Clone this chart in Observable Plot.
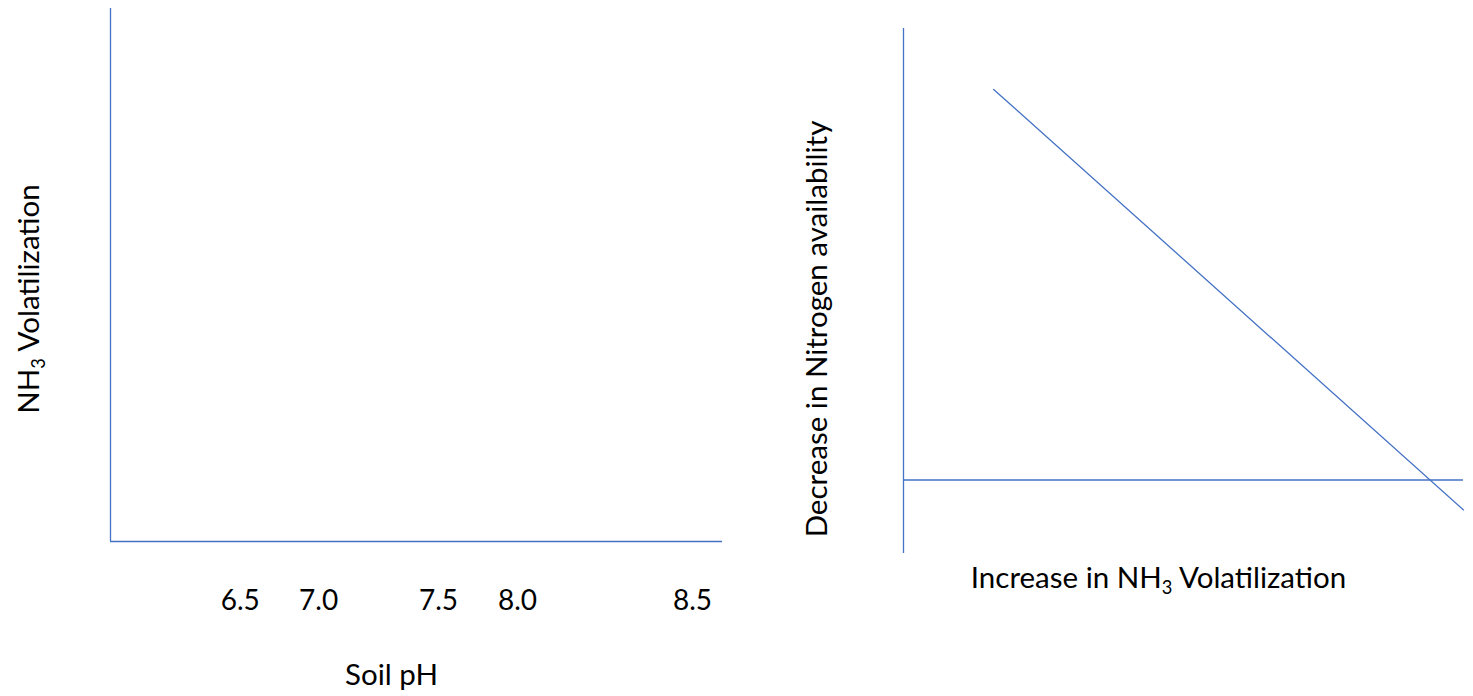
<!DOCTYPE html>
<html>
<head>
<meta charset="utf-8">
<script src="https://cdn.jsdelivr.net/npm/d3@7"></script>
<script src="https://cdn.jsdelivr.net/npm/@observablehq/plot@0.6"></script>
<style>
  html, body { margin: 0; padding: 0; background: #fff; }
  #wrap { position: relative; width: 1473px; height: 696px; overflow: hidden; }
  #left, #right { position: absolute; top: 0; }
  #left { left: 0; }
  #right { left: 760px; }
</style>
</head>
<body>
<div id="wrap"><div id="left"></div><div id="right"></div></div>
<script>
// ---- data (axis-fraction units) ----
const phLabels = ["6.5", "7.0", "7.5", "8.0", "8.5"];
const phTickPos = [0.212, 0.340, 0.536, 0.665, 0.951];   // position along the pH axis (0..1)
const leftXLabel = "Soil pH";
const leftYLabel = "NH3 Volatilization";

const rightXLabel = "Increase in NH3 Volatilization";
const rightYLabel = "Decrease in Nitrogen availability";
const diagX = [0.161, 1.0];        // increase in NH3 volatilization
const diagY = [0.884, 0.083];      // decrease in N availability
const refLineY = [0.140];          // horizontal reference line

const blue = "#4472C4";
const font = "Lato, 'Open Sans', sans-serif";
const fsTick = 28;
const fs = 29.5;

function subscriptNH3(svg) {
  d3.select(svg).selectAll("text").each(function () {
    const t = this.textContent;
    if (!t.includes("NH3")) return;
    const parts = t.split("NH3");
    const sel = d3.select(this);
    sel.text(null);
    sel.append("tspan").text(parts[0] + "NH");
    sel.append("tspan").attr("dy", fs * 0.22).attr("font-size", fs * 0.62).text("3");
    sel.append("tspan").attr("dy", -fs * 0.22).text(parts[1]);
  });
}

const diag = diagX.map((x, i) => ({x, y: diagY[i]}));

const left = Plot.plot({
  width: 760, height: 696,
  marginLeft: 110, marginRight: 38, marginTop: 8, marginBottom: 155,
  style: {fontFamily: font, color: "#000", background: "transparent"},
  x: {domain: [0, 1], axis: null},
  y: {domain: [0, 1], axis: null},
  marks: [
    Plot.ruleX([0], {y1: 0, y2: 1, stroke: blue, strokeWidth: 1.3}),
    Plot.ruleY([0], {x1: 0, x2: 1, stroke: blue, strokeWidth: 1.3}),
    Plot.text(phLabels, {x: (d, i) => phTickPos[i], text: d => d, frameAnchor: "bottom",
      lineAnchor: "bottom", dy: 68, fontSize: fsTick, fill: "#000"}),
    Plot.text([leftXLabel], {text: d => d, frameAnchor: "bottom", lineAnchor: "bottom",
      dx: -25, dy: 143, fontSize: fs, fill: "#000"}),
    Plot.text([leftYLabel], {text: d => d, frameAnchor: "left", rotate: -90, lineAnchor: "bottom",
      textAnchor: "middle", dx: -72, dy: 24, fontSize: fs, fill: "#000"})
  ]
});
subscriptNH3(left);
document.getElementById("left").append(left);

const right = Plot.plot({
  width: 713, height: 696,
  marginLeft: 143, marginRight: 10, marginTop: 28, marginBottom: 143,
  style: {fontFamily: font, color: "#000", background: "transparent"},
  x: {domain: [0, 1], axis: null},
  y: {domain: [0, 1], axis: null},
  marks: [
    Plot.ruleX([0], {y1: 0, y2: 1, stroke: blue, strokeWidth: 1.3}),
    Plot.ruleY(refLineY, {x1: 0, x2: 1, stroke: blue, strokeWidth: 1.3}),
    Plot.line(diag, {x: "x", y: "y", stroke: blue, strokeWidth: 1.3}),
    Plot.text([rightXLabel], {text: d => d, frameAnchor: "bottom", lineAnchor: "bottom",
      dx: -25, dy: 34, fontSize: fs, fill: "#000"}),
    Plot.text([rightYLabel], {text: d => d, frameAnchor: "left", rotate: -90, lineAnchor: "bottom",
      textAnchor: "middle", dx: -77, dy: 38, fontSize: fs, fill: "#000"})
  ]
});
subscriptNH3(right);
document.getElementById("right").append(right);
</script>
</body>
</html>
